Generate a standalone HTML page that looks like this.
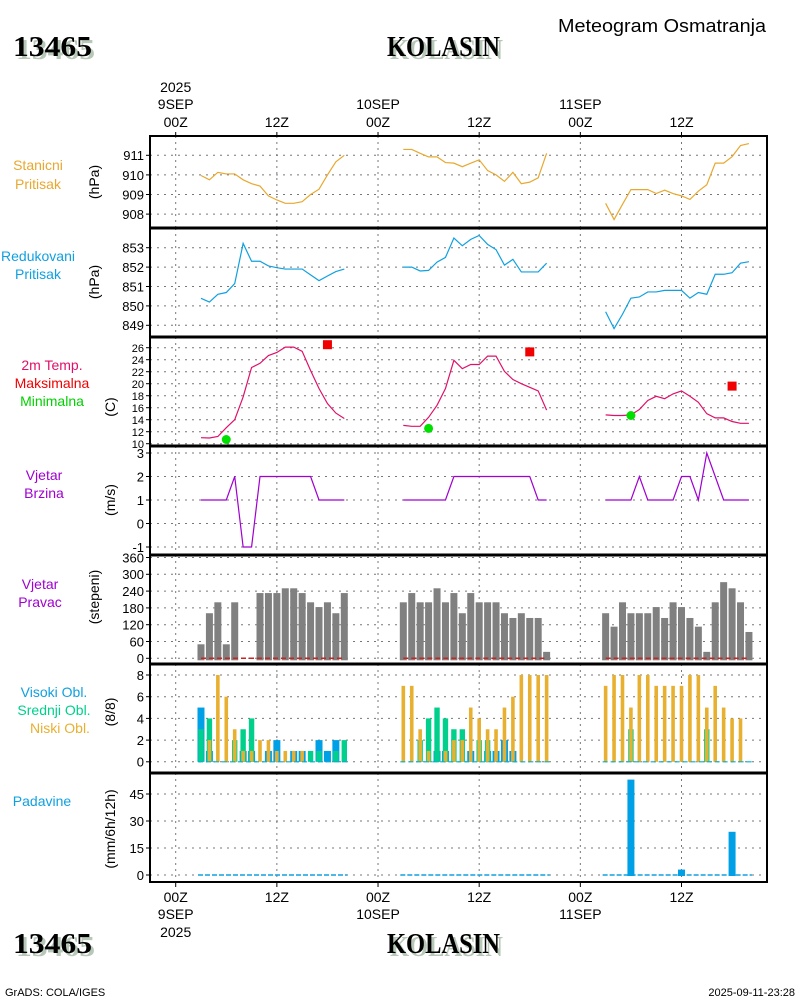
<!DOCTYPE html>
<html><head><meta charset="utf-8"><style>
body{margin:0;background:#fff;width:800px;height:1000px;overflow:hidden}
svg text{font-family:"Liberation Sans",sans-serif}
.big{font-family:"Liberation Serif",serif;font-weight:bold;font-size:28px}
</style></head><body>
<svg id="c" width="800" height="1000" xmlns="http://www.w3.org/2000/svg"></svg>
<script>
// ---------- data ----------
const seg1 = [3,20], seg2 = [27,44], seg3 = [51,68];
const presSt = [
 [909.97,909.75,910.13,910.05,910.05,909.75,909.55,909.43,908.93,908.72,908.55,908.55,908.63,909.0,909.27,910.0,910.67,911.0],
 [911.3,911.3,911.1,910.92,910.92,910.63,910.6,910.42,910.6,910.77,910.22,910.0,909.67,910.13,909.55,909.63,909.85,911.1],
 [908.55,907.72,908.5,909.25,909.25,909.25,909.05,909.22,909.05,908.93,908.75,909.17,909.5,910.6,910.6,910.93,911.5,911.6]];
const presRed = [
 [850.39,850.2,850.6,850.69,851.15,853.22,852.3,852.3,852.06,851.97,851.9,851.9,851.9,851.6,851.3,851.54,851.77,851.9],
 [852.0,852.0,851.8,851.83,852.26,852.5,853.5,853.1,853.43,853.63,853.17,852.9,852.1,852.4,851.75,851.75,851.75,852.2],
 [849.7,848.83,849.57,850.4,850.46,850.72,850.72,850.8,850.8,850.8,850.4,850.69,850.6,851.63,851.63,851.71,852.2,852.28]];
const temp = [
 [11.0,10.95,11.2,12.67,14.0,17.8,22.7,23.4,24.7,25.2,26.1,26.1,25.4,22.2,19.2,16.7,15.1,14.2],
 [13.05,12.9,12.9,14.4,16.4,19.2,23.9,22.5,23.2,23.2,24.6,24.6,22.05,20.7,20.0,19.4,18.8,15.6],
 [14.8,14.7,14.7,14.8,15.7,17.2,17.9,17.5,18.3,18.8,17.9,16.9,15.0,14.3,14.3,13.7,13.4,13.4]];
const tminHours = [6,30,54], tminVals = [10.7,12.55,14.7];
const tmaxHours = [18,42,66], tmaxVals = [26.5,25.3,19.6];
const wspd = [
 [1,1,1,1,2,-1,-1,2,2,2,2,2,2,2,1,1,1,1],
 [1,1,1,1,1,1,2,2,2,2,2,2,2,2,2,2,1,1],
 [1,1,1,1,2,1,1,1,1,2,2,1,3,2,1,1,1,1]];
const wdir = [
 [50,161,200,50,200,0,0,233,233,233,250,250,233,200,183,200,161,233],
 [200,233,200,200,250,200,233,161,233,200,200,200,161,144,161,144,144,23],
 [161,113,200,161,161,161,183,144,200,183,144,113,23,200,272,250,200,94]];
const cloudHigh = [
 [5,1,0,0,0,1,1,0,1,2,0,1,1,0,2,1,2,0],
 [0,0,0,0,1,1,0,0,1,0,1,1,2,1,0,0,0,0],
 [0,0,0,0,0,0,0,0,0,0,0,0,0,0,0,0,0,0]];
const cloudMid = [
 [3,4,0,0,2,3,4,0,0,0,0,0,0,1,1,0,1,2],
 [0,0,2,4,5,4,3,3,0,2,2,0,0,0,0,0,0,0],
 [0,0,0,3,0,0,0,0,0,0,0,0,3,0,0,0,0,0]];
const cloudLow = [
 [0,2,8,6,3,1,1,2,2,1,1,1,1,0,0,0,0,0],
 [7,7,3,1,0,1,2,2,5,4,3,3,5,6,8,8,8,8],
 [7,8,8,5,8,8,7,7,7,7,8,8,5,7,5,4,4,0]];
const precipHours = [54,60,66], precipVals = [53,3,24];
const timeTicks = ["00Z","12Z","00Z","12Z","00Z","12Z"];
const dayLabels = ["9SEP","10SEP","11SEP"];

// ---------- helpers ----------
const NS="http://www.w3.org/2000/svg", svg=document.getElementById('c');
function el(t,a,p){const e=document.createElementNS(NS,t);for(const k in a)e.setAttribute(k,a[k]);(p||svg).appendChild(e);return e;}
function txt(s,x,y,a,p){const e=el('text',Object.assign({x:x,y:y},a),p);e.textContent=s;return e;}
const L=150,R=767,T=136,B=882;
function X(h){return 175.7+h*8.43;}
const segs=[seg1,seg2,seg3];
function hours(i){const r=[];for(let h=segs[i][0];h<=segs[i][1];h++)r.push(h);return r;}
const panels=[
 {t:136,b:228,v0:911,y0:155.3,k:19.6,ticks:[908,909,910,911],fs:13},
 {t:228,b:337,v0:853,y0:247.7,k:19.4,ticks:[849,850,851,852,853],fs:13},
 {t:337,b:446,v0:26,y0:347.7,k:6,ticks:[10,12,14,16,18,20,22,24,26],fs:11},
 {t:446,b:555,v0:3,y0:453,k:23.5,ticks:[-1,0,1,2,3],fs:13},
 {t:555,b:664,v0:360,y0:557.5,k:0.28,ticks:[0,60,120,180,240,300,360],fs:13},
 {t:664,b:773,v0:8,y0:675,k:10.85,ticks:[0,2,4,6,8],fs:13},
 {t:773,b:882,v0:45,y0:794,k:1.8,ticks:[0,15,30,45],fs:13}];
function Y(p,v){return p.y0+(p.v0-v)*p.k;}

panels.forEach((p,pi)=>{
  const g=el('g',{});
  
  
  for(let i=0;i<6;i++){const x=X(i*12);el('line',{x1:x,x2:x,y1:p.t,y2:p.b,stroke:'#777','stroke-dasharray':'2,4'},g);}
  p.ticks.forEach(v=>{const y=Y(p,v);
    el('line',{x1:L,x2:R,y1:y,y2:y,stroke:'#777','stroke-dasharray':'2,5'},g);
    el('line',{x1:L-4,x2:L,y1:y,y2:y,stroke:'#000'},g);
    const t=txt(String(v),L-6,y+p.fs*0.38,{'text-anchor':'end','font-size':p.fs},g);
    
    
  });
});
function poly(pts,color,name){const e=el('polyline',{points:pts.map(q=>q.join(',')).join(' '),fill:'none',stroke:color,'stroke-width':1.2});
  
  }
for(let i=0;i<3;i++){
  const hs=hours(i);
  poly(hs.map((h,j)=>[X(h),Y(panels[0],presSt[i][j])]),'#e8a830','station-pressure-line');
  poly(hs.map((h,j)=>[X(h),Y(panels[1],presRed[i][j])]),'#10a0e0','reduced-pressure-line');
  poly(hs.map((h,j)=>[X(h),Y(panels[2],temp[i][j])]),'#e0106a','temperature-line');
  poly(hs.map((h,j)=>[X(h),Y(panels[3],wspd[i][j])]),'#a000d0','wind-speed-line');
  hs.forEach((h,j)=>{
    const v=wdir[i][j]; if(v>0){const y=Y(panels[4],v);
      const r=el('rect',{x:X(h)-3.5,y:y,width:7,height:Y(panels[4],0)+2-y,fill:'#808080'});
      
      }
    const p=panels[5],y0=Y(p,0);
    [[cloudHigh,3.5,'#00a0e6','high-cloud-bar'],[cloudMid,2.7,'#00d08c','mid-cloud-bar'],[cloudLow,1.8,'#e8b030','low-cloud-bar']].forEach(s=>{
      const v2=s[0][i][j]; if(v2>0){const y=Y(p,v2);
        const r=el('rect',{x:X(h)-s[1],y:y,width:s[1]*2,height:y0-y,fill:s[2]});
        
        }
    });
  });
  const a=X(segs[i][0]),b=X(segs[i][1]);
  el('line',{x1:a,x2:b,y1:Y(panels[4],0),y2:Y(panels[4],0),stroke:'#d02020','stroke-width':1.5,'stroke-dasharray':'5,3'});
  el('line',{x1:a-3,x2:b+3,y1:Y(panels[5],0),y2:Y(panels[5],0),stroke:'#00b0d0','stroke-width':1.2,'stroke-dasharray':'5,3'});
  el('line',{x1:a-3,x2:b+3,y1:Y(panels[6],0),y2:Y(panels[6],0),stroke:'#10a0e0','stroke-width':1.5,'stroke-dasharray':'5,2'});
}
tminHours.forEach((h,i)=>{const c=el('circle',{cx:X(h),cy:Y(panels[2],tminVals[i]),r:4.5,fill:'#00e000'});
  
  });
tmaxHours.forEach((h,i)=>{const c=el('rect',{x:X(h)-4.5,y:Y(panels[2],tmaxVals[i])-4.5,width:9,height:9,fill:'#f00000'});
  
  });
precipHours.forEach((h,i)=>{const y=Y(panels[6],precipVals[i]);const r=el('rect',{x:X(h)-3.5,y:y,width:7,height:Y(panels[6],0)+1-y,fill:'#00a0e6'});
  
  });

el('rect',{x:L,y:T,width:R-L,height:B-T,fill:'none',stroke:'#000','stroke-width':2});
[228,337,446,555,664,773].forEach(y=>el('line',{x1:L,x2:R,y1:y,y2:y,stroke:'#000','stroke-width':3}));
timeTicks.forEach((s,i)=>{const x=X(i*12);
  el('line',{x1:x,x2:x,y1:T-4,y2:T,stroke:'#000'});el('line',{x1:x,x2:x,y1:B,y2:B+5,stroke:'#000'});
  const a=txt(s,x,127,{'text-anchor':'middle','font-size':14});
  
  
  const b=txt(s,x,902,{'text-anchor':'middle','font-size':14});
  
  
});
dayLabels.forEach((s,i)=>{const x=X(i*24);txt(s,x,109,{'text-anchor':'middle','font-size':14});txt(s,x,919,{'text-anchor':'middle','font-size':14});});
txt("2025",X(0),92,{'text-anchor':'middle','font-size':14});txt("2025",X(0),937,{'text-anchor':'middle','font-size':14});
</script>
<svg width="800" height="1000" style="position:absolute;left:0;top:0" xmlns="http://www.w3.org/2000/svg">
<g>
<text class="big" x="16" y="59" fill="#b8c8b8" textLength="79" lengthAdjust="spacingAndGlyphs">13465</text><text class="big" x="13" y="56" textLength="79" lengthAdjust="spacingAndGlyphs">13465</text>
<text class="big" x="390" y="59" fill="#b8c8b8" textLength="113" lengthAdjust="spacingAndGlyphs">KOLASIN</text><text class="big" x="387" y="56" textLength="113" lengthAdjust="spacingAndGlyphs">KOLASIN</text>
<text x="558" y="32" font-size="18" textLength="208" lengthAdjust="spacingAndGlyphs">Meteogram Osmatranja</text>
<text class="big" x="16" y="956" fill="#b8c8b8" textLength="79" lengthAdjust="spacingAndGlyphs">13465</text><text class="big" x="13" y="953" textLength="79" lengthAdjust="spacingAndGlyphs">13465</text>
<text class="big" x="390" y="956" fill="#b8c8b8" textLength="113" lengthAdjust="spacingAndGlyphs">KOLASIN</text><text class="big" x="387" y="953" textLength="113" lengthAdjust="spacingAndGlyphs">KOLASIN</text>
<text x="5" y="996" font-size="11">GrADS: COLA/IGES</text>
<text x="795" y="996" font-size="11" text-anchor="end">2025-09-11-23:28</text>
</g>
<g font-size="14" text-anchor="middle">
<text x="38" y="170" fill="#e8a830">Stanicni</text><text x="38" y="189" fill="#e8a830">Pritisak</text>
<text x="38" y="261" fill="#10a0e0">Redukovani</text><text x="38" y="279" fill="#10a0e0">Pritisak</text>
<text x="52" y="370" fill="#e0106a">2m Temp.</text><text x="52" y="388" fill="#f00000">Maksimalna</text><text x="52" y="406" fill="#00d000">Minimalna</text>
<text x="44" y="480" fill="#a000d0">Vjetar</text><text x="44" y="498" fill="#a000d0">Brzina</text>
<text x="40" y="589" fill="#a000d0">Vjetar</text><text x="40" y="607" fill="#a000d0">Pravac</text>
<text x="54" y="697" fill="#10a0e0">Visoki Obl.</text><text x="54" y="715" fill="#00d08c">Srednji Obl.</text><text x="60" y="733" fill="#e8b030">Niski Obl.</text>
<text x="42" y="806" fill="#10a0e0">Padavine</text>
</g>
<g font-size="14" text-anchor="middle" fill="#000">
<text transform="translate(99,182) rotate(-90)">(hPa)</text>
<text transform="translate(99,282) rotate(-90)">(hPa)</text>
<text transform="translate(115,407) rotate(-90)">(C)</text>
<text transform="translate(115,500) rotate(-90)">(m/s)</text>
<text transform="translate(99,597) rotate(-90)">(stepeni)</text>
<text transform="translate(115,712) rotate(-90)">(8/8)</text>
<text transform="translate(115,829) rotate(-90)">(mm/6h/12h)</text>
</g>
</svg>
</body></html>
